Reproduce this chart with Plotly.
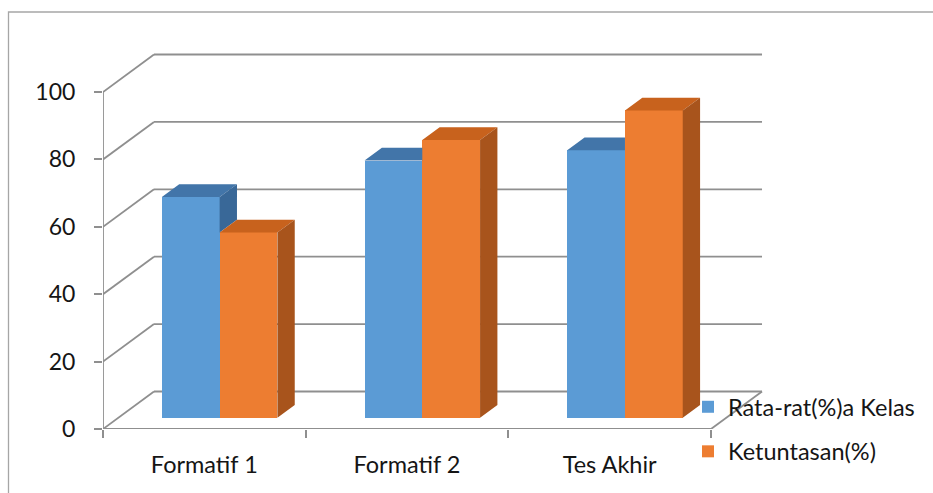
import plotly.graph_objects as go

# ---------------- data ----------------
categories = ["Formatif 1", "Formatif 2", "Tes Akhir"]
rata_rata = [65.5, 76.3, 79.4]
ketuntasan = [55.0, 82.4, 91.2]
y_ticks = [0, 20, 40, 60, 80, 100]
series_names = ["Rata-rat(%)a Kelas", "Ketuntasan(%)"]

# ---------------- geometry (layout only) ----------------
FIG_W, FIG_H = 933, 493
M_L, M_B = 103, 64
PLOT_W, PLOT_H = FIG_W - M_L, FIG_H - M_B
PX_X = 202.67          # pixels per category
PX_Y = 3.37            # pixels per value unit
x_range = [-0.5, -0.5 + PLOT_W / PX_X]
y_range = [0, PLOT_H / PX_Y]

DX = 51 / PX_X         # full depth offset (x units)
DY = 37.5 / PX_Y       # full depth offset (value units)
F0, FD = 0.30, 0.34    # bar front depth fraction, bar depth fraction
BW = 0.285             # bar width (x units)
ddx, ddy = FD * DX, FD * DY
base = F0 * DY

GRID = "#8f8f8f"
BLUE, BLUE_TOP, BLUE_SIDE = "#5B9BD5", "#4275A9", "#396898"
ORANGE, ORANGE_TOP, ORANGE_SIDE = "#ED7D31", "#C8621D", "#A8541C"
FONT = "Lato"
TXT = "#151515"

n = len(categories)
xc = [i + F0 * DX for i in range(n)]
xmin_cat, xmax_cat = -0.5, n - 0.5

fig = go.Figure()

# ---------------- walls / gridlines as shapes below traces ----------------
shapes = []
def seg(x0, y0, x1, y1):
    shapes.append(dict(type="line", xref="x", yref="y", x0=x0, y0=y0, x1=x1, y1=y1,
                       line=dict(color=GRID, width=1.8), layer="below"))

for v in y_ticks:
    seg(xmin_cat + DX, v + DY, xmax_cat + DX, v + DY)      # back wall
    seg(xmin_cat, v, xmin_cat + DX, v + DY)                # side wall
seg(xmin_cat, 0, xmax_cat, 0)                              # floor front edge
seg(xmax_cat, 0, xmax_cat + DX, DY)                        # floor right edge
seg(xmin_cat, 0, xmin_cat, y_ticks[-1])                    # front value axis

# chart border
shapes.append(dict(type="rect", xref="paper", yref="paper",
                   x0=(8.5 - M_L) / PLOT_W, x1=(FIG_W + 20 - M_L) / PLOT_W,
                   y0=(PLOT_H - (FIG_H + 20)) / PLOT_H, y1=(PLOT_H - 12) / PLOT_H,
                   line=dict(color="#a6a6a6", width=1.3), fillcolor="rgba(0,0,0,0)",
                   layer="below"))

# ---------------- bar front faces ----------------
fig.add_trace(go.Bar(x=xc, y=rata_rata, base=[base] * n, offset=-BW, width=BW,
                     marker=dict(color=BLUE, line=dict(width=0)),
                     name=series_names[0], legendgroup="a", hoverinfo="skip"))
fig.add_trace(go.Bar(x=xc, y=ketuntasan, base=[base] * n, offset=0, width=BW,
                     marker=dict(color=ORANGE, line=dict(width=0)),
                     name=series_names[1], legendgroup="b", hoverinfo="skip"))

# ---------------- 3D top/side faces ----------------
def poly_trace(polys, color):
    xs, ys = [], []
    for p in polys:
        for (px, py) in p + [p[0]]:
            xs.append(px); ys.append(py)
        xs.append(None); ys.append(None)
    return go.Scatter(x=xs, y=ys, mode="none", fill="toself", fillcolor=color,
                      hoverinfo="skip", showlegend=False)

blue_top, blue_side, orange_top, orange_side = [], [], [], []
for i in range(n):
    vb, vo = rata_rata[i], ketuntasan[i]
    xl, xr, xr2 = xc[i] - BW, xc[i], xc[i] + BW
    # blue top, clipped by the orange front face
    c = min(max(vo, vb), vb + ddy) - vb
    if c >= ddy:
        blue_top.append([(xl, base + vb), (xr, base + vb),
                         (xr, base + vb + ddy), (xl + ddx, base + vb + ddy)])
    else:
        blue_top.append([(xl, base + vb), (xr, base + vb), (xr, base + vb + c),
                         (xr + c / ddy * ddx, base + vb + c),
                         (xr + ddx, base + vb + ddy), (xl + ddx, base + vb + ddy)])
    # blue side, visible only above orange
    low = min(vo, vb)
    if vb > low:
        blue_side.append([(xr, base + low), (xr, base + vb),
                          (xr + ddx, base + vb + ddy), (xr + ddx, base + low + ddy)])
    orange_top.append([(xr, base + vo), (xr2, base + vo),
                       (xr2 + ddx, base + vo + ddy), (xr + ddx, base + vo + ddy)])
    orange_side.append([(xr2, base), (xr2, base + vo),
                        (xr2 + ddx, base + vo + ddy), (xr2 + ddx, base + ddy)])

fig.add_trace(poly_trace(blue_top, BLUE_TOP))
if blue_side:
    fig.add_trace(poly_trace(blue_side, BLUE_SIDE))
fig.add_trace(poly_trace(orange_top, ORANGE_TOP))
fig.add_trace(poly_trace(orange_side, ORANGE_SIDE))

# ---------------- layout ----------------
fig.update_layout(
    width=FIG_W, height=FIG_H,
    margin=dict(l=M_L, r=0, t=0, b=M_B, autoexpand=False),
    paper_bgcolor="white", plot_bgcolor="white",
    barmode="overlay", bargap=0,
    font=dict(family=FONT, size=23, color=TXT),
    shapes=shapes,
    showlegend=True,
    legend=dict(x=(688 - M_L) / PLOT_W, y=(PLOT_H - 385) / PLOT_H,
                xanchor="left", yanchor="top", bgcolor="rgba(0,0,0,0)",
                borderwidth=0, tracegroupgap=11,
                font=dict(family=FONT, size=23.5, color=TXT)),
    xaxis=dict(range=x_range, tickmode="array", tickvals=list(range(n)),
               ticktext=categories, ticks="", showgrid=False, zeroline=False,
               showline=False, ticklabelstandoff=19, fixedrange=True,
               tickfont=dict(family=FONT, size=23.5, color=TXT),
               minor=dict(tickmode="array", tickvals=[b - 0.5 for b in range(n + 1)],
                          ticks="outside", ticklen=8, tickcolor=GRID, tickwidth=1.6,
                          showgrid=False)),
    yaxis=dict(range=y_range, tickmode="array", tickvals=y_ticks, ticks="outside",
               ticklen=8, tickcolor=GRID, tickwidth=1.6, showgrid=False,
               zeroline=False, showline=False, ticklabelstandoff=14, fixedrange=True),
)

fig.write_html("out.html")
